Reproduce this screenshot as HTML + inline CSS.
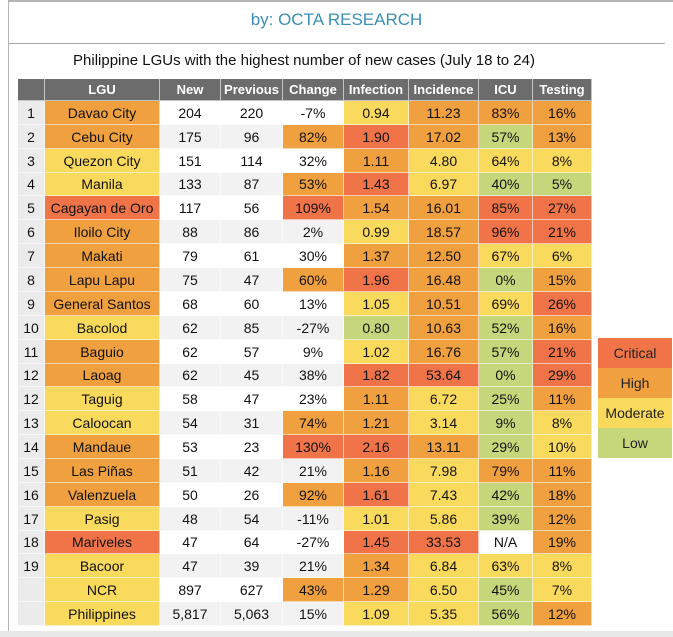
<!DOCTYPE html>
<html><head><meta charset="utf-8"><style>
body{margin:0;width:673px;height:637px;background:#fff;position:relative;overflow:hidden;font-family:"Liberation Sans",sans-serif;}
.abs{position:absolute}
.c{position:absolute;display:flex;align-items:center;justify-content:center;font-size:14px;color:#111;box-sizing:border-box;border-right:1px solid rgba(255,255,255,0.6);border-bottom:1px solid rgba(255,255,255,0.6)}
.h{background:#6c6c6c;color:#fff;font-weight:bold;font-size:13px}
.lg{position:absolute;left:598px;width:74px;height:30px;display:flex;align-items:center;justify-content:center;font-size:14px;color:#222}
</style></head><body>
<div class="abs" style="left:8px;top:0;width:665px;height:2px;background:#b5b5b5"></div>
<div class="abs" style="left:8px;top:0;width:1px;height:631px;background:#b5b5b5"></div>
<div class="abs" style="left:9px;top:43px;width:656px;height:1px;background:#a5a5a5"></div>
<div class="abs" style="left:0;top:631px;width:673px;height:6px;background:#e8e8e8"></div>
<div class="abs" style="left:0;width:673px;top:10px;text-align:center;font-size:17px;color:#3b8fb8">by: OCTA RESEARCH</div>
<div class="abs" style="left:0;width:608px;top:52px;text-align:center;font-size:15px;color:#111">Philippine LGUs with the highest number of new cases (July 18 to 24)</div>
<div id="tbl"></div>
<div class="lg" style="top:338px;background:#f07448">Critical</div>
<div class="lg" style="top:368px;background:#f0a03e">High</div>
<div class="lg" style="top:398px;background:#f9da5c">Moderate</div>
<div class="lg" style="top:428px;background:#c6d67a">Low</div>
<script>
const headers=["","LGU","New","Previous","Change","Infection","Incidence","ICU","Testing"];
const ranks=["1","2","3","4","5","6","7","8","9","10","11","12","12","13","14","15","16","17","18","19","",""];
const lgus=["Davao City","Cebu City","Quezon City","Manila","Cagayan de Oro","Iloilo City","Makati","Lapu Lapu","General Santos","Bacolod","Baguio","Laoag","Taguig","Caloocan","Mandaue","Las Piñas","Valenzuela","Pasig","Mariveles","Bacoor","NCR","Philippines"];
const newCases=["204","175","151","133","117","88","79","75","68","62","62","62","58","54","53","51","50","48","47","47","897","5,817"];
const prevCases=["220","96","114","87","56","86","61","47","60","85","57","45","47","31","23","42","26","54","64","39","627","5,063"];
const change=["-7%","82%","32%","53%","109%","2%","30%","60%","13%","-27%","9%","38%","23%","74%","130%","21%","92%","-11%","-27%","21%","43%","15%"];
const infection=["0.94","1.90","1.11","1.43","1.54","0.99","1.37","1.96","1.05","0.80","1.02","1.82","1.11","1.21","2.16","1.16","1.61","1.01","1.45","1.34","1.29","1.09"];
const incidence=["11.23","17.02","4.80","6.97","16.01","18.57","12.50","16.48","10.51","10.63","16.76","53.64","6.72","3.14","13.11","7.98","7.43","5.86","33.53","6.84","6.50","5.35"];
const icu=["83%","57%","64%","40%","85%","96%","67%","0%","69%","52%","57%","0%","25%","9%","29%","79%","42%","39%","N/A","63%","45%","56%"];
const testing=["16%","13%","8%","5%","27%","21%","6%","15%","26%","16%","21%","29%","11%","8%","10%","11%","18%","12%","19%","8%","7%","12%"];
// risk levels: O high, R critical, Y moderate, G low, W none
const lguLvl="OOYYROOOOYOOYYOOOYRYYY";
const chgLvl="WOWORWWOWWWWWORWOWWWOW";
const infLvl="YROROYORYGYROORORYROOY";
const incLvl="OOYYOOOOOOORYYOYYYRYYY";
const icuLvl="OGYGRRYGYGGGGGGOGGWYGG";
const tstLvl="OOYGRRYORORROYYOOOOYYO";
const colors={O:"#f0a03e",R:"#f07448",Y:"#f9da5c",G:"#c6d67a"};
const edges=[18,45,160,221,283,344,409,479,533,592];
const tbl=document.getElementById('tbl');
function cell(i,top,h,text,bg,cls,name){
  const d=document.createElement('div');
  d.className='c '+(cls||'');
  d.style.left=edges[i]+'px';d.style.width=(edges[i+1]-edges[i])+'px';
  d.style.top=top+'px';d.style.height=h+'px';
  if(bg)d.style.background=bg;
  d.textContent=text;
  
  
  tbl.appendChild(d);
}
headers.forEach((t,i)=>cell(i,79,22,t,null,'h','header-'+(t?t.toLowerCase():'rank')));
const cols=[ranks,lgus,newCases,prevCases,change,infection,incidence,icu,testing];
const lv=[null,lguLvl,null,null,chgLvl,infLvl,incLvl,icuLvl,tstLvl];
const names=["rank","lgu","new","previous","change","infection","incidence","icu","testing"];
const rowH=525/lgus.length;
for(let r=0;r<lgus.length;r++){
  const top=Math.round(101+r*rowH);
  const h=Math.round(101+(r+1)*rowH)-top;
  const plain=r%2?"#f2f2f2":"#ffffff";
  for(let c=0;c<cols.length;c++){
    let bg=plain;
    if(c===0)bg="#ebebeb";
    else if(lv[c]&&colors[lv[c][r]])bg=colors[lv[c][r]];
    cell(c,top,h,cols[c][r],bg,'',names[c]+'-cell');
  }
}
</script>
</body></html>
